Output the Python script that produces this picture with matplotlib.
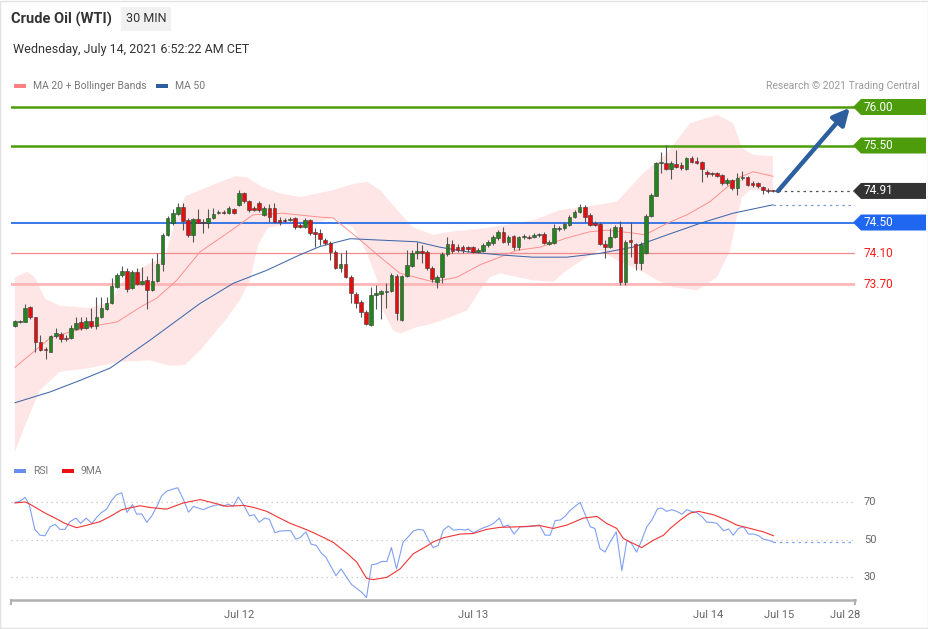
import numpy as np
import matplotlib.pyplot as plt
from matplotlib.patches import Rectangle, Polygon
from matplotlib.transforms import blended_transform_factory

plt.rcParams['font.family'] = ['Roboto', 'DejaVu Sans']

# ---- candles (30 min), index 0 = first bar on the chart
opens = [73.16, 73.21, 73.21, 73.40, 73.27, 72.95, 72.86, 72.82, 73.03, 73.05,
         73.00, 73.00, 73.12, 73.21, 73.13, 73.22, 73.16, 73.27, 73.38, 73.45,
         73.66, 73.82, 73.87, 73.65, 73.86, 73.70, 73.75, 73.62, 73.74, 73.96,
         74.34, 74.49, 74.61, 74.70, 74.53, 74.34, 74.55, 74.51, 74.49, 74.56,
         74.62, 74.64, 74.62, 74.68, 74.73, 74.88, 74.78, 74.69, 74.75, 74.60,
         74.69, 74.69, 74.53, 74.53, 74.53, 74.56, 74.47, 74.44, 74.53, 74.38,
         74.36, 74.27, 74.23, 74.12, 73.91, 73.96, 73.79, 73.57, 73.47, 73.34,
         73.17, 73.56, 73.57, 73.60, 73.61, 73.81, 73.23, 73.81, 73.94, 74.10,
         74.13, 74.12, 73.91, 73.73, 73.79, 74.09, 74.22, 74.18, 74.18, 74.18,
         74.18, 74.12, 74.13, 74.21, 74.23, 74.30, 74.38, 74.25, 74.32, 74.18,
         74.31, 74.31, 74.31, 74.34, 74.35, 74.22, 74.23, 74.42, 74.43, 74.47,
         74.57, 74.64, 74.70, 74.60, 74.49, 74.48, 74.22, 74.18, 74.31, 74.44,
         73.73, 74.27, 74.22, 73.97, 74.10, 74.58, 74.84, 75.27, 75.27, 75.19,
         75.26, 75.25, 75.19, 75.34, 75.30, 75.29, 75.16, 75.14, 75.14, 75.12,
         75.01, 75.05, 74.95, 75.08, 75.09, 75.01, 75.01, 74.96, 74.92, 74.92]
highs = [73.23, 73.23, 73.44, 73.42, 73.27, 73.04, 72.88, 73.04, 73.13, 73.08,
         73.04, 73.17, 73.27, 73.27, 73.27, 73.39, 73.53, 73.53, 73.53, 73.78,
         73.84, 73.94, 73.91, 73.88, 73.91, 73.92, 73.81, 74.04, 74.10, 74.36,
         74.58, 74.68, 74.75, 74.75, 74.56, 74.56, 74.68, 74.55, 74.68, 74.69,
         74.66, 74.66, 74.71, 74.69, 74.92, 74.90, 74.79, 74.71, 74.78, 74.71,
         74.74, 74.75, 74.57, 74.56, 74.57, 74.57, 74.49, 74.56, 74.55, 74.43,
         74.42, 74.30, 74.26, 74.14, 74.10, 74.14, 73.82, 73.60, 73.49, 73.36,
         73.66, 73.69, 73.62, 73.71, 73.84, 73.83, 73.82, 74.14, 74.14, 74.25,
         74.21, 74.14, 73.94, 73.82, 74.12, 74.31, 74.27, 74.22, 74.21, 74.20,
         74.20, 74.17, 74.23, 74.27, 74.34, 74.40, 74.44, 74.34, 74.34, 74.32,
         74.35, 74.34, 74.36, 74.36, 74.38, 74.27, 74.48, 74.45, 74.51, 74.60,
         74.66, 74.74, 74.73, 74.62, 74.52, 74.51, 74.27, 74.43, 74.47, 74.52,
         74.27, 74.51, 74.23, 74.25, 74.61, 74.88, 75.29, 75.42, 75.51, 75.30,
         75.44, 75.29, 75.35, 75.36, 75.35, 75.30, 75.18, 75.16, 75.16, 75.13,
         75.08, 75.07, 75.14, 75.17, 75.10, 75.04, 75.03, 74.97, 74.95, 74.92]
lows = [73.14, 73.19, 73.21, 73.25, 72.82, 72.83, 72.73, 72.82, 73.00, 72.95,
        72.96, 72.99, 73.10, 73.10, 73.12, 73.13, 73.12, 73.26, 73.36, 73.44,
        73.65, 73.79, 73.60, 73.64, 73.69, 73.69, 73.38, 73.61, 73.73, 73.87,
        74.33, 74.47, 74.60, 74.40, 74.31, 74.25, 74.49, 74.36, 74.43, 74.55,
        74.61, 74.61, 74.61, 74.61, 74.71, 74.75, 74.64, 74.65, 74.64, 74.58,
        74.51, 74.51, 74.47, 74.51, 74.52, 74.42, 74.43, 74.43, 74.34, 74.18,
        74.21, 74.21, 74.01, 73.90, 73.86, 73.78, 73.45, 73.39, 73.27, 73.17,
        73.16, 73.38, 73.25, 73.39, 73.60, 73.23, 73.22, 73.79, 73.92, 74.03,
        73.97, 73.88, 73.73, 73.65, 73.71, 74.07, 74.10, 74.12, 74.10, 74.12,
        74.10, 74.10, 74.12, 74.18, 74.21, 74.27, 74.23, 74.21, 74.14, 74.14,
        74.29, 74.29, 74.30, 74.31, 74.22, 74.21, 74.22, 74.39, 74.40, 74.45,
        74.56, 74.62, 74.51, 74.45, 74.45, 74.21, 74.04, 74.17, 74.30, 73.69,
        73.69, 74.05, 73.88, 73.88, 74.09, 74.57, 74.84, 75.14, 75.18, 75.07,
        75.21, 75.18, 75.18, 75.27, 75.26, 75.03, 75.09, 75.10, 75.09, 74.99,
        74.99, 74.92, 74.86, 75.05, 74.97, 74.96, 74.95, 74.87, 74.88, 74.90]
closes = [73.22, 73.22, 73.39, 73.27, 72.95, 72.84, 72.84, 73.03, 73.07, 72.99,
          72.99, 73.13, 73.20, 73.13, 73.22, 73.16, 73.27, 73.39, 73.45, 73.68,
          73.82, 73.87, 73.64, 73.86, 73.70, 73.74, 73.62, 73.74, 73.96, 74.34,
          74.56, 74.62, 74.70, 74.52, 74.34, 74.55, 74.49, 74.49, 74.56, 74.61,
          74.64, 74.62, 74.69, 74.62, 74.88, 74.78, 74.66, 74.66, 74.66, 74.69,
          74.57, 74.51, 74.51, 74.52, 74.55, 74.44, 74.44, 74.53, 74.36, 74.35,
          74.29, 74.23, 74.12, 73.91, 73.96, 73.79, 73.58, 73.45, 73.34, 73.18,
          73.56, 73.58, 73.61, 73.61, 73.82, 73.32, 73.81, 73.95, 74.10, 74.13,
          74.10, 73.91, 73.77, 73.79, 74.09, 74.22, 74.13, 74.14, 74.14, 74.16,
          74.12, 74.14, 74.21, 74.25, 74.31, 74.38, 74.25, 74.31, 74.18, 74.31,
          74.32, 74.30, 74.34, 74.35, 74.23, 74.25, 74.43, 74.43, 74.48, 74.57,
          74.64, 74.70, 74.57, 74.47, 74.47, 74.22, 74.18, 74.31, 74.44, 73.73,
          74.25, 74.25, 73.97, 74.22, 74.58, 74.86, 75.27, 75.29, 75.19, 75.27,
          75.22, 75.21, 75.34, 75.29, 75.27, 75.19, 75.13, 75.13, 75.10, 75.01,
          75.05, 74.95, 75.08, 75.09, 74.99, 74.99, 74.97, 74.92, 74.91, 74.91]

# ---- indicators (bar index, value)
ma20_x = [0, 6.9, 10.8, 16.7, 20.1, 24.6, 27.9, 31.8, 36.4, 41.7, 46.8, 52.7, 60, 62.5,
          67.2, 71.8, 75.7, 82.2, 86.9, 91.4, 95.3, 98.7, 103.2, 108.5, 113, 116.4,
          121.9, 123.8, 128.2, 132.1, 136.6, 140, 142.5, 145.1, 149]
ma20_y = [72.62, 73.00, 73.08, 73.17, 73.21, 73.40, 73.52, 73.75, 74.12, 74.36, 74.60,
          74.62, 74.57, 74.56, 74.31, 74.05, 73.84, 73.73, 73.79, 73.95, 74.05, 74.14,
          74.18, 74.30, 74.38, 74.40, 74.36, 74.34, 74.49, 74.60, 74.77, 74.96, 75.09,
          75.16, 75.10]
ma50_x = [0, 6.9, 12.8, 18.7, 26.5, 36.4, 42.9, 49.5, 56, 60, 65.9, 72.3, 79, 83.5,
          88.9, 95.3, 101.8, 108.5, 115, 121.5, 128.2, 134.7, 141.1, 149]
ma50_y = [72.16, 72.30, 72.45, 72.61, 72.97, 73.45, 73.71, 73.88, 74.08, 74.19, 74.29,
          74.27, 74.25, 74.18, 74.12, 74.08, 74.05, 74.05, 74.10, 74.18, 74.34, 74.49,
          74.62, 74.73]
bb_up_x = [0, 2.4, 3.9, 5.9, 8.8, 14.7, 18.7, 21.6, 26.5, 29.5, 31.5, 33.4, 36.4, 39.7,
           43.2, 45.6, 48.6, 52.1, 56, 62.5, 65.9, 69.2, 71.8, 75.7, 78.2, 82.2, 85.5,
           92.8, 96.7, 101.8, 107.1, 111.7, 118.3, 123.5, 128.2, 132.7, 138, 141.2,
           142.9, 145, 149]
bb_up_y = [73.79, 73.86, 73.79, 73.51, 73.42, 73.39, 73.47, 73.78, 73.97, 74.05, 74.51,
           74.84, 74.92, 75.01, 75.10, 75.09, 74.96, 74.88, 74.83, 74.92, 74.99, 75.03,
           74.92, 74.62, 74.44, 74.34, 74.38, 74.43, 74.47, 74.53, 74.66, 74.70, 74.77,
           75.14, 75.40, 75.79, 75.90, 75.79, 75.47, 75.38, 75.36]
bb_lo_x = [0, 2, 4.9, 8.8, 14.7, 20.6, 26.5, 30.5, 33.4, 36.4, 41.7, 44.2, 46.2, 47.8,
           49.7, 52.7, 60, 62.5, 66.4, 69.2, 71.2, 72.3, 74.3, 75.7, 79, 82.2, 85.5,
           88.9, 91.4, 93.4, 95.3, 101.8, 105.8, 108.5, 112.4, 115, 118.9, 122.9,
           126.2, 129.4, 134.1, 138, 140.6, 141.9, 142.9, 144.4, 149]
bb_lo_y = [71.52, 71.87, 72.32, 72.56, 72.61, 72.69, 72.71, 72.64, 72.65, 72.84, 73.26,
           73.49, 73.75, 74.21, 74.43, 74.47, 74.51, 74.56, 74.44, 74.10, 73.75, 73.36,
           73.10, 73.06, 73.14, 73.19, 73.27, 73.36, 73.62, 73.79, 73.84, 73.75, 73.73,
           73.88, 74.05, 74.14, 73.99, 73.88, 73.75, 73.66, 73.62, 73.79, 74.14, 74.57,
           74.82, 74.92, 74.92]

rsi_x = [0, 1, 2, 2.8, 3.9, 4.9, 5.9, 6.9, 7.9, 8.8, 9.8, 10.8, 12, 12.9, 14, 15.1, 16.1,
         17, 18, 19, 20, 21, 22, 23.1, 23.9, 24.9, 25.9, 26.9, 27.9, 28.8, 29.8, 30.8,
         32, 33.1, 34.1, 35.1, 36, 37, 38, 39, 40, 41, 41.9, 42.9, 43.9, 44.9, 46.1, 47,
         48, 49.1, 50, 51.1, 52.1, 53.4, 54.2, 55.2, 56, 57.2, 58.2, 59.2, 60.2, 61.1,
         62.1, 63.1, 64.1, 65.2, 66.2, 67.2, 68.2, 69.1, 70.1, 71.1, 72.1, 73.1, 74, 75,
         76.3, 77.3, 78.3, 79.3, 80.3, 81.3, 82.2, 83.2, 84.2, 85.2, 86.2, 87.5, 88.5,
         89.1, 90.1, 91.1, 92.1, 93.1, 94.1, 95.2, 96, 97, 98.1, 99.3, 100.6, 101.9,
         103.1, 104.2, 105.2, 106.2, 107.2, 108.1, 109.1, 110.1, 111.1, 112.1, 113.1,
         114, 115, 116, 117, 118.2, 119.3, 120.3, 121.2, 122.2, 123.2, 124.2, 125.2,
         126.3, 127.1, 128.1, 129.1, 130.1, 131.1, 132.1, 133, 134, 135, 136, 137, 138,
         139.3, 140.3, 141.2, 142.2, 143.2, 144.2, 145.2, 146.2, 147.1, 148.1, 149.1]
rsi_y = [69.8, 70.4, 72.5, 68.6, 55.4, 52.3, 52.0, 56.8, 58.1, 55.4, 55.4, 59.5, 61.4,
         58.6, 61.4, 58.6, 61.9, 64.4, 66.2, 70.9, 74.0, 74.9, 64.4, 68.6, 63.5, 63.7,
         59.2, 62.6, 67.7, 73.1, 75.8, 76.7, 77.6, 71.3, 64.6, 67.7, 66.8, 65.9, 67.1,
         68.0, 68.6, 67.7, 68.9, 67.7, 72.7, 68.6, 62.6, 63.2, 59.2, 61.4, 60.8, 53.6,
         54.5, 54.7, 54.7, 50.2, 50.9, 54.1, 47.5, 46.9, 42.8, 40.6, 35.6, 30.7, 34.3,
         29.8, 25.9, 23.9, 21.7, 19.0, 36.5, 37.0, 38.3, 38.3, 45.7, 34.3, 48.7, 51.4,
         54.5, 55.4, 55.0, 49.6, 45.7, 46.9, 55.0, 57.2, 55.0, 55.4, 55.0, 55.6, 53.6,
         55.0, 56.3, 57.2, 58.6, 61.4, 56.8, 57.7, 52.9, 56.8, 56.8, 57.2, 57.7, 52.3,
         52.3, 60.1, 60.4, 62.3, 65.5, 67.7, 69.8, 63.2, 56.8, 55.9, 45.1, 43.3, 48.7,
         54.1, 33.4, 49.6, 47.8, 43.3, 49.6, 56.8, 60.4, 66.4, 66.8, 65.0, 65.9, 65.0,
         63.5, 65.9, 65.0, 64.4, 62.3, 59.2, 59.2, 58.6, 54.7, 55.6, 52.3, 55.9, 56.8,
         52.9, 52.9, 52.0, 50.2, 49.6, 48.7]
ma9_x = [0, 2, 2.9, 5.9, 7.9, 9.8, 12.1, 13.8, 16.7, 18.7, 21, 24.6, 26.5, 29.8, 33.1,
         36.4, 39, 41.6, 44.9, 46.9, 49.5, 51.4, 54.1, 56.7, 58.7, 61.3, 62.6, 65.2,
         67.2, 69.1, 70.4, 73.1, 75.7, 78.3, 80.9, 82.2, 84.2, 87.5, 90.1, 92.7, 95.4,
         99.3, 103.2, 105.8, 108.5, 111.7, 114.4, 116.3, 118.3, 119.6, 121.6, 123.2,
         125.5, 127.5, 128.8, 130.8, 132.7, 134.4, 137.3, 139.9, 141.9, 144.5, 147.1,
         149.1]
ma9_y = [69.5, 70.0, 68.9, 64.1, 61.4, 58.6, 56.3, 57.4, 59.5, 62.3, 65.9, 68.0, 67.1,
         66.2, 69.5, 71.3, 69.5, 67.7, 68.2, 67.1, 65.0, 62.3, 58.6, 55.9, 53.6, 50.2,
         48.4, 42.8, 37.9, 29.3, 28.6, 29.8, 34.3, 42.4, 46.4, 48.7, 50.9, 52.9, 53.2,
         55.4, 56.5, 56.8, 57.4, 55.9, 57.7, 61.4, 62.3, 58.6, 55.9, 50.5, 47.8, 45.7,
         49.6, 52.3, 55.9, 60.4, 64.1, 65.0, 63.2, 60.4, 57.7, 55.9, 54.1, 52.0]

last_price = 74.91
target = 76.00
boxed_levels = [76.00, 75.50, 74.91, 74.50]
boxed_labels = ["76.00", "75.50", "74.91", "74.50"]
red_levels = [74.10, 73.70]
red_labels = ["74.10", "73.70"]
rsi_levels = [70, 50, 30]
date_ticks = [44, 90, 136.2, 150.2, 163.2]
date_labels = ["Jul 12", "Jul 13", "Jul 14", "Jul 15", "Jul 28"]

W, H = 929, 629
fig = plt.figure(figsize=(W / 100, H / 100), dpi=100)


def fx(px):
    return px / W


def fy(py):
    return 1 - py / H


xlim = (-0.786, 165.13)

# ---------------- price panel
ax = fig.add_axes([fx(11), fy(455), (855 - 11) / W, (455 - 95) / H])
ax.set_xlim(*xlim)
ax.set_ylim(71.481, 76.156)
ax.axis('off')

ax.fill(np.r_[bb_up_x, bb_lo_x[::-1]], np.r_[bb_up_y, bb_lo_y[::-1]],
        color='#ffe6e6', lw=0, zorder=1)

ax.axhline(76.00, color='#4c9c0c', lw=1.8, zorder=2)
ax.axhline(75.50, color='#4c9c0c', lw=1.8, zorder=2)
ax.axhline(74.50, color='#2a6ee8', lw=1.3, zorder=2)
ax.axhline(74.10, color='#f28c8c', lw=0.9, zorder=2)
ax.axhline(73.70, color='#ffb6b6', lw=2.0, zorder=2)

ax.plot(ma20_x, ma20_y, color='#ff8f8f', lw=0.7, zorder=3)
ax.plot(ma50_x, ma50_y, color='#3f68aa', lw=0.75, zorder=3)
ax.plot([ma50_x[-1], xlim[1]], [ma50_y[-1], ma50_y[-1]], color='#7a9ad0', lw=0.9,
        ls=(0, (2, 3)), zorder=3)
ax.plot([150, xlim[1]], [last_price, last_price], color='#555555', lw=0.9,
        ls=(0, (2, 3)), zorder=3)

for i in range(len(opens)):
    o, h, l, c = opens[i], highs[i], lows[i], closes[i]
    col = '#22861c' if c >= o else '#e80c0c'
    ax.vlines(i, l, h, color='#555555', lw=0.8, zorder=4)
    ax.add_patch(Rectangle((i - 0.36, min(o, c)), 0.72, max(abs(c - o), 0.012),
                           fc=col, ec='#3a3a3a', lw=0.4, zorder=5))

ax.annotate('', xy=(164.1, target - 0.01), xytext=(150.0, last_price),
            arrowprops=dict(arrowstyle='-|>,head_length=1.0,head_width=0.5',
                            color='#2d5f9e', lw=3.2, shrinkA=0, shrinkB=0),
            zorder=6, annotation_clip=False)

tr = blended_transform_factory(fig.transFigure, ax.transData)
hh = 8 / 77
box_cols = ['#4c9c0c', '#4c9c0c', '#333333', '#1f66f0']
for p, lab, col in zip(boxed_levels, boxed_labels, box_cols):
    ax.add_patch(Polygon([(fx(853), p), (fx(861), p + hh), (fx(926), p + hh),
                          (fx(926), p - hh), (fx(861), p - hh)],
                         closed=True, transform=tr, fc=col, ec='none', clip_on=False))
    ax.text(fx(864), p, lab, transform=tr, color='white', fontsize=8.5, va='center')
for p, lab in zip(red_levels, red_labels):
    ax.text(fx(864), p, lab, transform=tr, color='#ff1a1a', fontsize=8.5, va='center')

# ---------------- RSI panel
rx = fig.add_axes([fx(11), fy(600), (855 - 11) / W, (600 - 485) / H])
rx.set_xlim(*xlim)
rx.set_ylim(17.73, 79.07)
for s in ['top', 'left', 'right']:
    rx.spines[s].set_visible(False)
rx.spines['bottom'].set_color('#b0b0b0')
rx.spines['bottom'].set_linewidth(1.8)
rx.set_yticks([])
rx.set_xticks(date_ticks)
rx.set_xticklabels(date_labels)
rx.tick_params(axis='x', length=0, pad=7, labelsize=8, labelcolor='#666666')
for xe in [0, 1]:
    rx.plot([xe, xe], [0, -0.035], transform=rx.transAxes, color='#b0b0b0', lw=1.5,
            clip_on=False)

rtr = blended_transform_factory(fig.transFigure, rx.transData)
for v in rsi_levels:
    rx.axhline(v, color='#c4c4c4', lw=0.9, ls=(0, (1, 3)), zorder=1)
    rx.text(fx(864), v, str(v), transform=rtr, color='#666666', fontsize=8, va='center')

rx.plot(rsi_x, rsi_y, color='#80a0f2', lw=0.8, zorder=3)
rx.plot([rsi_x[-1], xlim[1]], [rsi_y[-1], rsi_y[-1]], color='#80a0f2', lw=0.9,
        ls=(0, (2, 3)), zorder=3)
rx.plot(ma9_x, ma9_y, color='#f23434', lw=0.8, zorder=4)

# ---------------- header / legends
fig.add_artist(Rectangle((fx(121), fy(31)), 50 / W, 24 / H, transform=fig.transFigure,
                         fc='#f1f1f1', ec='none'))
fig.text(fx(11), fy(19), 'Crude Oil (WTI)', fontsize=10.5, fontweight='bold',
         color='#333333', va='center')
fig.text(fx(146), fy(19), '30 MIN', fontsize=9, color='#333333', va='center', ha='center')
fig.text(fx(13), fy(49), 'Wednesday, July 14, 2021 6:52:22 AM CET', fontsize=9,
         color='#333333', va='center')


def legend_item(x, y, col, label):
    fig.add_artist(Rectangle((fx(x), fy(y + 2)), 12 / W, 4 / H,
                             transform=fig.transFigure, fc=col, ec='none'))
    fig.text(fx(x + 19), fy(y), label, fontsize=7.5, color='#777777', va='center')


legend_item(14, 86, '#ff8080', 'MA 20 + Bollinger Bands')
legend_item(156, 86, '#2d5f9e', 'MA 50')
legend_item(14, 471, '#6a8ef0', 'RSI')
legend_item(62, 471, '#ee1111', '9MA')
fig.text(fx(920), fy(86), 'Research \u00a9 2021 Trading Central', fontsize=7.5,
         color='#9a9a9a', va='center', ha='right')

fig.add_artist(Rectangle((0.0005, 0.001), 0.998, 0.997, transform=fig.transFigure,
                         fc='none', ec='#e2e2e2', lw=1))

fig.savefig('out.png', dpi=100)
